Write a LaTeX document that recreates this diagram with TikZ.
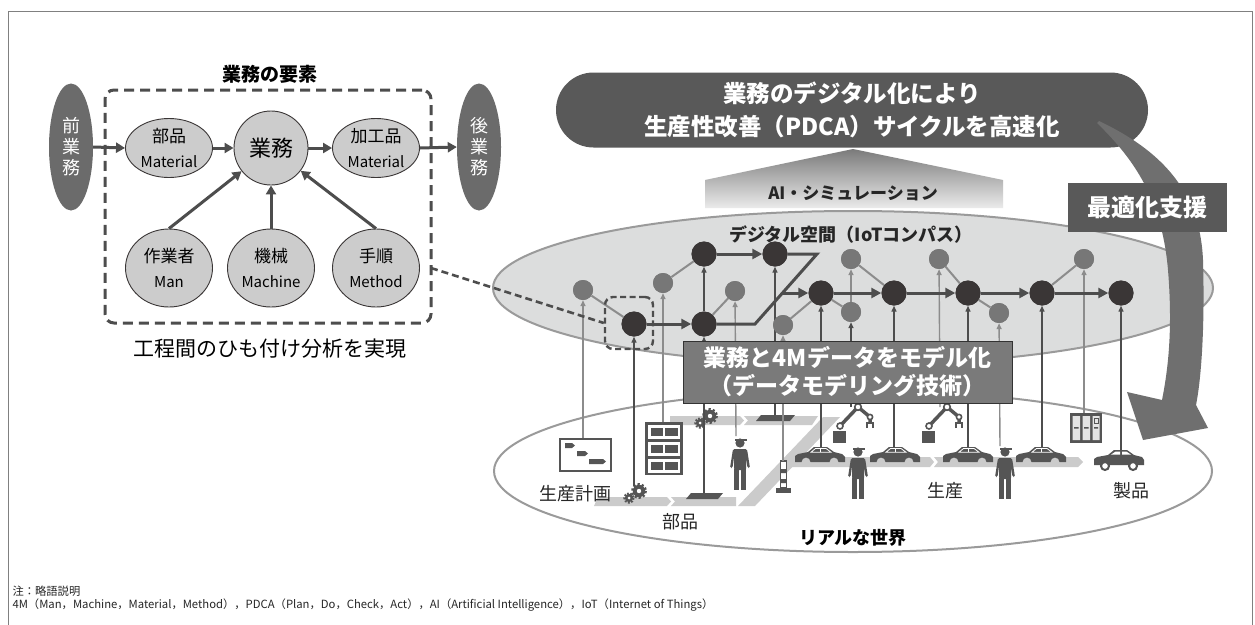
\documentclass[tikz,border=0pt]{standalone}
\usepackage{fontspec}
\setmainfont{Noto Sans CJK JP}
\usetikzlibrary{arrows.meta,shapes.geometric}
\newcommand\fsz[2]{\fontsize{#1}{#2}\selectfont}

\definecolor{dk}{HTML}{3A3636}
\definecolor{ln}{HTML}{4D4D4D}
\definecolor{gn}{HTML}{777777}
\definecolor{gl}{HTML}{8C8C8C}
\definecolor{lt}{HTML}{CCCCCC}
\definecolor{sidec}{HTML}{6B6B6B}
\definecolor{bann}{HTML}{595959}
\definecolor{dsp}{HTML}{DCDDDD}
\definecolor{rim}{HTML}{9A9A9A}
\definecolor{conv}{HTML}{CBCBCB}
\definecolor{ico}{HTML}{555555}
\definecolor{modelc}{HTML}{7A7A7A}
\definecolor{curv}{HTML}{6F6F6F}
\definecolor{cabl}{HTML}{E4E4E4}

% small icons of the shop floor
\newcommand\gearpair[2]{%
  \fill[ico] (#1,#2) circle (4.2);
  \draw[ico, line width=2.2pt, dash pattern=on 1.7pt off 1.5pt] (#1,#2) circle (4.6);
  \fill[white] (#1,#2) circle (1.5);
  \fill[ico] (#1+10,#2-7) circle (6.2);
  \draw[ico, line width=2.6pt, dash pattern=on 2.2pt off 2pt] (#1+10,#2-7) circle (6.6);
  \fill[white] (#1+10,#2-7) circle (2.2);}
\newcommand\worker[2]{%
  \begin{scope}[shift={(#1,#2)}]
    \fill[ico] (0,6) circle (4.6);
    \fill[ico] (-5.5,2.2) rectangle (6.5,3.6);
    \fill[ico, rounded corners=1.5pt] (-7,12) -- (7,12) -- (10,31) -- (7.5,31) -- (6,20) -- (6,33) -- (-6,33) -- (-6,20) -- (-7.5,31) -- (-10,31) -- cycle;
    \fill[ico] (-6,32) rectangle (-1,53);
    \fill[ico] (1,32) rectangle (6,53);
  \end{scope}}
\newcommand\convcar[2]{%
  \begin{scope}[shift={(#1,#2)}]
    \fill[ico] (0,15) -- (6.5,15) arc[start angle=180, end angle=360, radius=4.5]
      -- (34.5,15) arc[start angle=180, end angle=360, radius=4.5]
      -- (50,15) -- (50,10) -- (47,7) -- (39,5) -- (32,0) -- (19,0) -- (13,5) -- (3,7) -- (0,9) -- cycle;
    \draw[white, line width=0.8pt] (16,5.2) -- (20.5,1.5) -- (31,1.5) -- (36,5.2) -- cycle (25.5,1.5) -- (25.5,5.2);
  \end{scope}}
\newcommand\robot[2]{%
  \begin{scope}[shift={(#1,#2)}]
    \fill[ico] (0,0) rectangle (13,12);
    \draw[ico, line width=3.5pt] (7,-5) -- (25,-24) -- (37,-14) -- (37,-8);
    \draw[ico, line width=1.6pt, fill=white] (7,-5) circle (3) (25,-24) circle (3.3) (37,-14) circle (2.6);
    \draw[ico, line width=1.5pt] (34,-3) -- (34,-8) -- (40,-8) -- (40,-3);
  \end{scope}}

\begin{document}
\begin{tikzpicture}[x=1pt, y=-1pt,
  elem/.style={ellipse, draw=dk, line width=0.9pt, fill=lt, inner sep=0pt, align=center,
    minimum width=87pt, font=\fsz{17}{25}},
  side/.style={ellipse, fill=sidec, minimum width=44pt, minimum height=127pt, inner sep=0pt,
    align=center, text=white, font=\fsz{18}{21}},
  flow/.style={draw=ln, line width=3pt, -{Triangle[length=9pt, width=10pt]}},
  thk/.style={draw=ln, line width=3pt},
  thkarr/.style={draw=ln, line width=3pt, -{Triangle[length=10pt, width=10pt]}},
  assoc/.style={draw=gl, line width=2pt},
  updk/.style={draw=ln, line width=1.4pt, -{Triangle[length=6pt, width=5pt]}},
  upgr/.style={draw=gl, line width=1.4pt, -{Triangle[length=6pt, width=5pt]}},
  bnode/.style={circle, fill=dk, minimum size=25pt, inner sep=0pt},
  gnode/.style={circle, fill=gn, minimum size=20pt, inner sep=0pt},
  lbl/.style={font=\fsz{18}{20}, text=black!85},
]
\useasboundingbox (0,0) rectangle (1255,624);
\fill[white] (0,0) rectangle (1255,624);
\draw[gray, line width=0.9pt] (8,640) -- (8,11) -- (1252,11) -- (1252,640);

% ---------------- elements of one task ----------------
\node[font=\bfseries\fsz{19}{22}] (ttl) at (270,74) {業務の要素};
\node[draw=ln, line width=3pt, dash pattern=on 10pt off 6pt, rounded corners=9pt,
  minimum width=326pt, minimum height=233pt] (elems) at (268,206.5) {};

\node[side] (pre) at (71,147) {前\\業\\務};
\node[side] (post) at (479,147) {後\\業\\務};

\node[elem, minimum height=59pt] (mat) at (169,148) {部品\\{\fsz{15}{25}Material}};
\node[elem, minimum width=74pt, minimum height=74pt, font=\fsz{22}{25}] (biz) at (271,148) {業務};
\node[elem, minimum height=59pt] (prod) at (376,148) {加工品\\{\fsz{15}{25}Material}};
\node[elem, minimum height=78pt] (man) at (169,268) {作業者\\{\fsz{15}{25}Man}};
\node[elem, minimum height=78pt] (mach) at (271,268) {機械\\{\fsz{15}{25}Machine}};
\node[elem, minimum height=78pt] (meth) at (376,268) {手順\\{\fsz{15}{25}Method}};

\draw[flow] (pre.east) -- (mat.west);
\draw[flow] (mat.east) -- (biz.west);
\draw[flow] (biz.east) -- (prod.west);
\draw[flow] (prod.east) -- (post.west);
\draw[flow] (man.north) -- (biz);
\draw[flow] (mach.north) -- (biz.south);
\draw[flow] (meth.north) -- (biz);

\node[font=\fsz{21}{24}] (cap) at (270,349) {工程間のひも付け分析を実現};

% ---------------- real world ----------------
\draw[rim, line width=2pt, fill=white] (853,471) ellipse [x radius=359, y radius=81];

% conveyor bands
\fill[conv] (598,497) -- (667,497) -- (671,501.5) -- (667,506) -- (594,506) -- cycle;
\fill[conv] (671,497) -- (736,497) -- (736,506) -- (671,506) -- (675,501.5) -- cycle;
\fill[conv] (738,506) -- (755,506) -- (840,417) -- (823,417) -- cycle;
\fill[conv] (670,416) -- (740,416) -- (744,420.5) -- (740,425) -- (670,425) -- cycle;
\fill[conv] (744,416) -- (818,416) -- (812,425) -- (744,425) -- (748,420.5) -- cycle;
\fill[conv] (790,457) -- (930,457) -- (934,462) -- (930,467) -- (782,467) -- cycle;
\fill[conv] (934,457) -- (1078,457) -- (1083,462) -- (1078,467) -- (934,467) -- (938,462) -- cycle;

% production plan chart
\draw[ico, line width=2.5pt, fill=white] (560,439) rectangle (611,471);
\fill[ico] (565,443) -- (572,443) -- (575,445.5) -- (572,448) -- (565,448) -- cycle;
\fill[ico] (577,451) -- (585,451) -- (588,453.5) -- (585,456) -- (577,456) -- cycle;
\fill[ico] (589,459) -- (603,459) -- (606,461.5) -- (603,464) -- (589,464) -- cycle;

% parts shelf
\fill[ico] (645,422) rectangle (683,475);
\foreach \r in {425,442,459} {
  \fill[white] (648,\r) rectangle (680,\r+14);
  \fill[ico] (650.5,\r+3) rectangle (663,\r+11);
  \fill[ico] (665,\r+3) rectangle (677.5,\r+11);
}

\gearpair{629}{498}
\gearpair{700}{423}

% pallets
\fill[ico] (686,499) -- (691,493) -- (723,493) -- (718,499) -- cycle;
\fill[ico] (756,421) -- (761,415) -- (795,415) -- (790,421) -- cycle;

% signal tower
\draw[ico, line width=1.5pt, fill=white] (780.5,461) rectangle (786.5,488);
\fill[ico] (780.5,469) rectangle (786.5,473) (780.5,479) rectangle (786.5,483);
\fill[ico] (776,488) rectangle (791,493);

\worker{740}{437}
\worker{858}{446}
\worker{1005}{446}

\convcar{795}{447}
\convcar{870}{447}
\convcar{943}{447}
\convcar{1016}{447}

\robot{833}{431}
\robot{922}{431}

% control cabinet
\fill[ico] (1070,413) rectangle (1102,443);
\fill[cabl] (1072.5,416) rectangle (1080,440) (1082.5,416) rectangle (1090,440) (1092.5,416) rectangle (1099.5,440);
\fill[ico] (1074,427) rectangle (1078.5,428.5) (1084,427) rectangle (1088.5,428.5) (1094,427) rectangle (1098,428.5);
\draw[ico, line width=1pt] (1094,418) rectangle (1098,423);

% finished car
\begin{scope}[shift={(1094,450)}]
  \fill[ico] (0,15) -- (0,9) -- (3,7) -- (14,5) -- (20,0) -- (33,0) -- (40,5) -- (48,7) -- (50,10) -- (50,15) -- cycle;
  \fill[white] (17,4.6) -- (21.5,1.6) -- (26,1.6) -- (26,4.6) -- cycle (28,1.6) -- (32.5,1.6) -- (37,4.6) -- (28,4.6) -- cycle;
  \draw[ico, line width=2pt, fill=white] (11,16) circle (4) (39,16) circle (4);
\end{scope}

\node[lbl] (plan) at (575,494) {生産計画};
\node[lbl] (parts) at (680,522) {部品};
\node[lbl] (mfg) at (945,491) {生産};
\node[lbl] (goods) at (1131,491) {製品};
\node[font=\bfseries\fsz{18}{20}] (real) at (853,538) {リアルな世界};

% ---------------- digital space ----------------
\draw[rim, line width=2pt, fill=dsp] (853,288) ellipse [x radius=360, y radius=77];

\shade[top color=black!52, bottom color=black!8] (705,208) -- (705,180) -- (853,149) -- (1003,180) -- (1003,208) -- cycle;
\node[font=\bfseries\fsz{17}{20}, text=black!85] (ai) at (853,193) {AI・シミュレーション};

\node[rounded corners=37.5pt, fill=bann, minimum width=592pt, minimum height=75pt,
  text=white, align=center, font=\bfseries\fsz{23.5}{33}] (goal) at (852,110)
  {業務のデジタル化により\\生産性改善（PDCA）サイクルを高速化};

\node[font=\bfseries\fsz{18}{20}, text=black!85] (dtitle) at (851,235) {デジタル空間（IoTコンパス）};

% network nodes
\node[bnode] (b1) at (634,324) {};
\node[bnode] (b2) at (704,254) {};
\node[bnode] (b3) at (704,324) {};
\node[bnode] (b4) at (775,254) {};
\node[bnode] (b5) at (821,293) {};
\node[bnode] (b6) at (894,293) {};
\node[bnode] (b7) at (968,293) {};
\node[bnode] (b8) at (1042,293) {};
\node[bnode] (b9) at (1121,293) {};
\node[gnode] (g1) at (583,290) {};
\node[gnode] (g2) at (663,283) {};
\node[gnode] (g3) at (735,291) {};
\node[gnode] (g4) at (783,325) {};
\node[gnode] (g5) at (851,259) {};
\node[gnode] (g6) at (851,312) {};
\node[gnode] (g7) at (939,259) {};
\node[gnode] (g8) at (999,313) {};
\node[gnode] (g9) at (1084,259) {};

% sources on the shop floor
\coordinate (s1) at (583,438);
\coordinate (s2) at (634,486);
\coordinate (s3) at (663,422);
\coordinate (s4) at (704,493);
\coordinate (s5) at (736,436);
\coordinate (s6) at (775,415);
\coordinate (s7) at (783,461);
\coordinate (s8) at (821,447);
\coordinate (s9) at (851,407);
\coordinate (s10) at (894,447);
\coordinate (s11) at (940,407);
\coordinate (s12) at (968,447);
\coordinate (s13) at (1000,446);
\coordinate (s14) at (1042,447);
\coordinate (s15) at (1084,413);
\coordinate (s16) at (1121,450);

\draw[upgr] (s1) -- (g1);
\draw[updk] (s2) -- (b1);
\draw[upgr] (s3) -- (g2);
\draw[updk] (s4) -- (b3);
\draw[updk] (b3) -- (b2);
\draw[upgr] (s5) -- (g3);
\draw[updk] (s6) -- (b4);
\draw[upgr] (s7) -- (g4);
\draw[updk] (s8) -- (b5);
\draw[updk] (s9) -- (g6);
\draw[upgr] (g6) -- (g5);
\draw[updk] (s10) -- (b6);
\draw[upgr] (s11) -- (g7);
\draw[updk] (s12) -- (b7);
\draw[upgr] (s13) -- (g8);
\draw[updk] (s14) -- (b8);
\draw[upgr] (s15) -- (g9);
\draw[updk] (s16) -- (b9);

% links between tasks
\draw[assoc] (g1) -- (b1);
\draw[assoc] (g2) -- (b2);
\draw[assoc] (b3) -- (g3);
\draw[assoc] (g4) -- (b5);
\draw[assoc] (b5) -- (g6);
\draw[assoc] (g5) -- (b6);
\draw[assoc] (g7) -- (b7);
\draw[assoc] (b7) -- (g8);
\draw[assoc] (b8) -- (g9);

\coordinate (z1) at (755,324);
\coordinate (z2) at (817,254);
\coordinate (z3) at (782,293);
\draw[thkarr] (b1) -- (b3);
\draw[thkarr] (b2) -- (b4);
\draw[thk] (b3) -- (z1) -- (z2) -- (b4);
\draw[thkarr] (z3) -- (b5);
\draw[thkarr] (b5) -- (b6);
\draw[thkarr] (b6) -- (b7);
\draw[thkarr] (b7) -- (b8);
\draw[thkarr] (b8) -- (b9);

% discs painted again over the links
\foreach \p in {{(634,324)},{(704,254)},{(704,324)},{(775,254)},{(821,293)},{(894,293)},{(968,293)},{(1042,293)},{(1121,293)}}
  \fill[dk] \p circle (12.5);
\foreach \p in {{(583,290)},{(663,283)},{(735,291)},{(783,325)},{(851,259)},{(851,312)},{(939,259)},{(999,313)},{(1084,259)}}
  \fill[gn] \p circle (10);

% focus on one task
\node[draw=ln, line width=2.4pt, dash pattern=on 6pt off 3.5pt, rounded corners=8pt,
  minimum width=48pt, minimum height=52pt] (focus) at (629,323) {};
\coordinate (lk) at (431,268);
\draw[draw=ln, line width=2.6pt, dash pattern=on 7pt off 4pt] (lk) -- (focus.west);

% data modelling banner
\node[fill=modelc, draw=black!80, line width=1pt, minimum width=329pt, minimum height=62pt,
  text=white, align=center, font=\bfseries\fsz{23}{28}] (model) at (847.5,372)
  {業務と4Mデータをモデル化\\（データモデリング技術）};

% optimisation feedback arrow
\fill[curv] (1099,121) .. controls (1160,150) and (1200,190) .. (1203,260)
  .. controls (1205,330) and (1201,380) .. (1196,405)
  -- (1208,428) -- (1143,440) -- (1127,392) -- (1162,400)
  .. controls (1170,360) and (1172,320) .. (1168,270)
  .. controls (1162,200) and (1135,160) .. (1097,123) -- cycle;
\node[fill=bann, minimum width=159pt, minimum height=49pt, text=white,
  font=\bfseries\fsz{24}{26}] (opt) at (1147.5,207.5) {最適化支援};

% notes
\node[anchor=west, font=\fsz{11.3}{13}, text=black!85] (note1) at (9,591) {注：略語説明};
\node[anchor=west, font=\fsz{11.3}{13}, text=black!85] (note2) at (9,605)
  {4M（Man，Machine，Material，Method），PDCA（Plan，Do，Check，Act），AI（Artificial Intelligence），IoT（Internet of Things）};
\end{tikzpicture}
\end{document}
